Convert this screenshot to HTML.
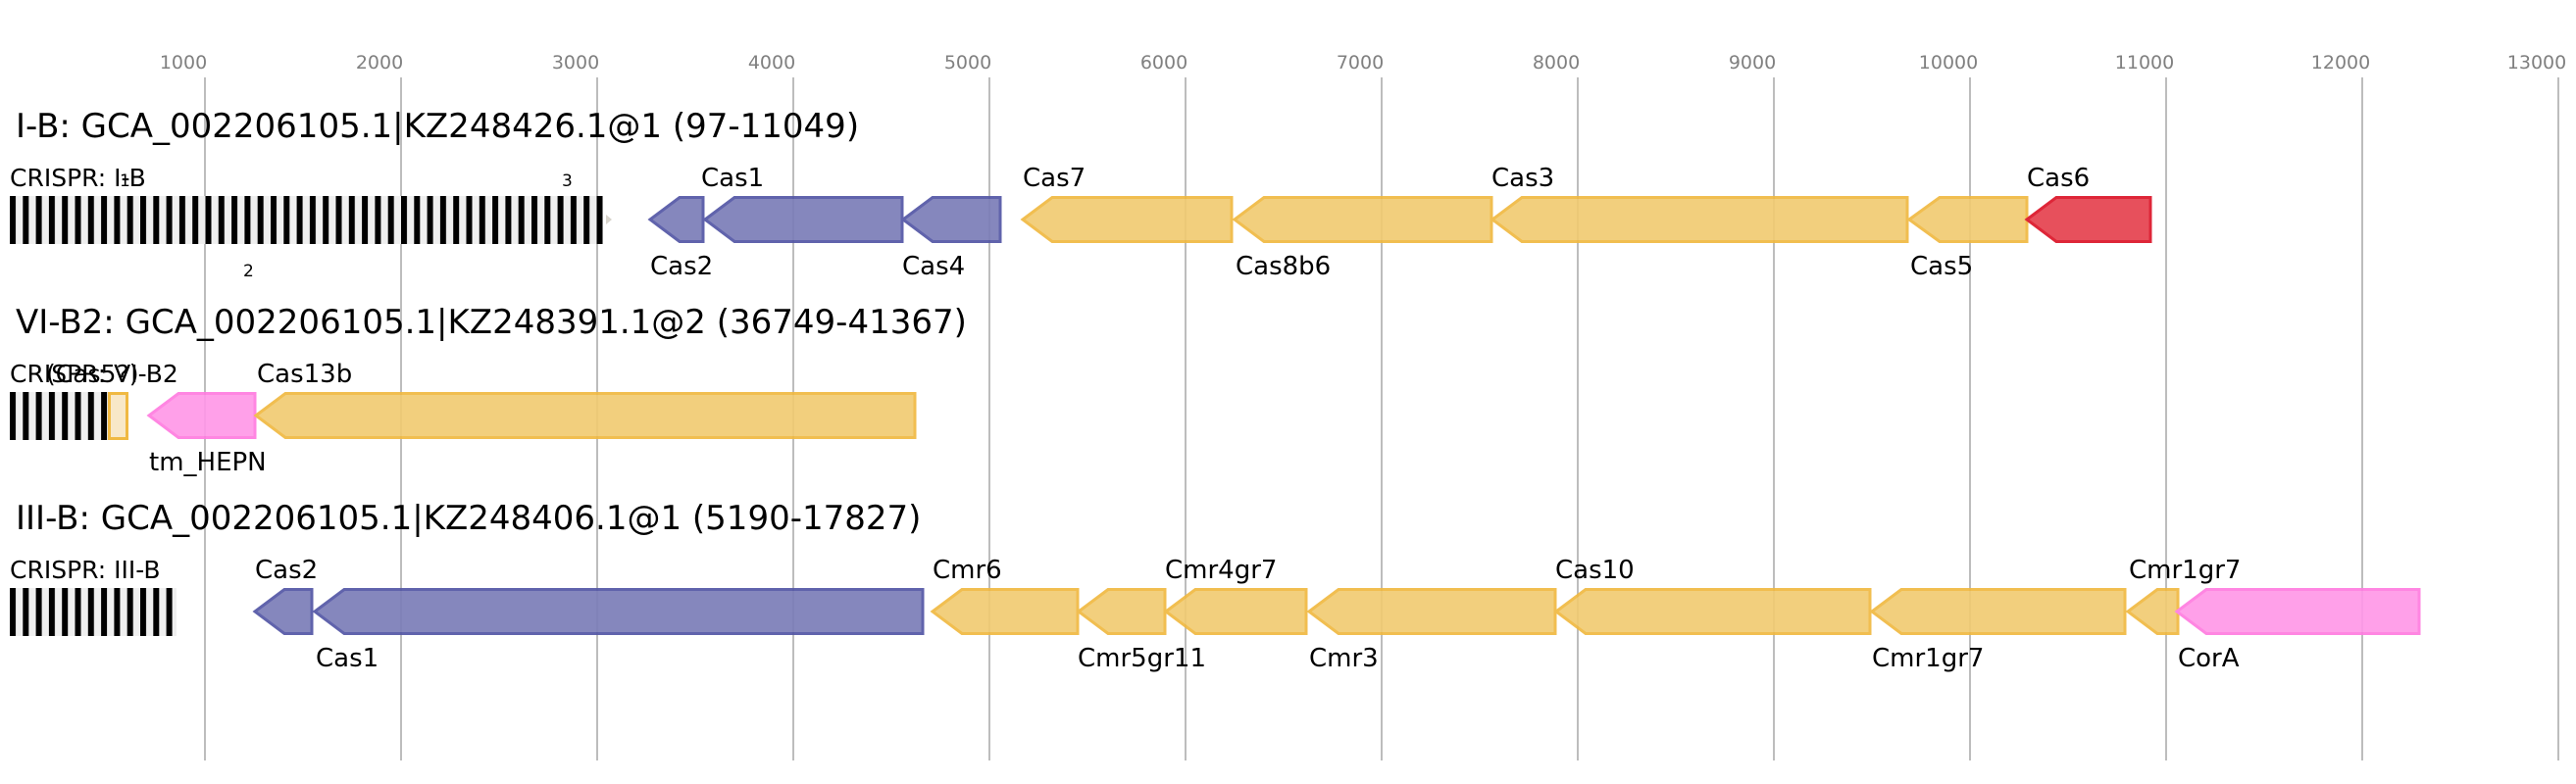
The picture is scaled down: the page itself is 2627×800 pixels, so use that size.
<!DOCTYPE html>
<html><head><meta charset="utf-8"><style>
html,body{margin:0;padding:0;background:#fff;}
svg{display:block;}
text{font-family:"DejaVu Sans","Liberation Sans",sans-serif;}
</style></head><body>
<svg width="2627" height="800" viewBox="0 0 2627 800" xmlns="http://www.w3.org/2000/svg">
<rect width="2627" height="800" fill="#fff"/>
<defs>
<pattern id="cr" x="10" y="0" width="13.3" height="10" patternUnits="userSpaceOnUse">
<rect x="0" y="0" width="13.3" height="10" fill="#efefef"/>
<rect x="0" y="0" width="6" height="10" fill="#000"/>
</pattern>
</defs>
<g stroke="#bdbdbd" stroke-width="2">
<line x1="209" y1="79" x2="209" y2="776"/><line x1="409" y1="79" x2="409" y2="776"/>
<line x1="609" y1="79" x2="609" y2="776"/><line x1="809" y1="79" x2="809" y2="776"/>
<line x1="1009" y1="79" x2="1009" y2="776"/><line x1="1209" y1="79" x2="1209" y2="776"/>
<line x1="1409" y1="79" x2="1409" y2="776"/><line x1="1609" y1="79" x2="1609" y2="776"/>
<line x1="1809" y1="79" x2="1809" y2="776"/><line x1="2009" y1="79" x2="2009" y2="776"/>
<line x1="2209" y1="79" x2="2209" y2="776"/><line x1="2409" y1="79" x2="2409" y2="776"/>
<line x1="2609" y1="79" x2="2609" y2="776"/>
</g>
<g fill="#808080" font-size="19" text-anchor="middle">
<text x="187" y="70">1000</text><text x="387" y="70">2000</text><text x="587" y="70">3000</text>
<text x="787" y="70">4000</text><text x="987" y="70">5000</text><text x="1187" y="70">6000</text>
<text x="1387" y="70">7000</text><text x="1587" y="70">8000</text><text x="1787" y="70">9000</text>
<text x="1987" y="70">10000</text><text x="2187" y="70">11000</text><text x="2387" y="70">12000</text>
<text x="2587" y="70">13000</text>
</g>
<g fill="#000" font-size="34">
<text x="16" y="140">I-B: GCA_002206105.1|KZ248426.1@1 (97-11049)</text>
<text x="16" y="340">VI-B2: GCA_002206105.1|KZ248391.1@2 (36749-41367)</text>
<text x="16" y="540">III-B: GCA_002206105.1|KZ248406.1@1 (5190-17827)</text>
</g>
<rect x="10" y="200" width="605" height="49" fill="url(#cr)"/>
<polygon points="618,219 624,224 618,229" fill="#d8d4cc"/>
<rect x="10" y="400" width="100" height="49" fill="url(#cr)"/>
<rect x="111.5" y="401.5" width="18" height="46" fill="#f8e8c8" stroke="#f0b942" stroke-width="3"/>
<rect x="10" y="600" width="170" height="49" fill="url(#cr)"/>
<g fill="#000" font-size="25">
<text x="10" y="190">CRISPR: I-B</text>
<text x="10" y="390">CRISPR: VI-B2</text>
<text x="47" y="390">(Cas5?)</text>
<text x="10" y="590">CRISPR: III-B</text>
</g>
<g fill="#000" font-size="17">
<text x="122" y="190">1</text><text x="573" y="190">3</text><text x="248" y="282">2</text>
</g>
<g stroke-width="3" stroke-linejoin="miter" opacity="0.92">
<g fill="#7b7db8" stroke="#5356a5">
<polygon points="663,224 693,201.5 717,201.5 717,246.5 693,246.5"/>
<polygon points="719,224 749,201.5 920,201.5 920,246.5 749,246.5"/>
<polygon points="921,224 951,201.5 1020,201.5 1020,246.5 951,246.5"/>
</g>
<g fill="#f1cb72" stroke="#f0b942">
<polygon points="1043,224 1073,201.5 1256,201.5 1256,246.5 1073,246.5"/>
<polygon points="1259,224 1289,201.5 1521,201.5 1521,246.5 1289,246.5"/>
<polygon points="1522,224 1552,201.5 1945,201.5 1945,246.5 1552,246.5"/>
<polygon points="1947,224 1978,201.5 2067,201.5 2067,246.5 1978,246.5"/>
</g>
<polygon points="2067,224 2097,201.5 2193,201.5 2193,246.5 2097,246.5" fill="#e5424f" stroke="#dc1428"/>
<polygon points="152,424 182,401.5 260,401.5 260,446.5 182,446.5" fill="#ff98e8" stroke="#ff7ce0"/>
<polygon points="261,424 291,401.5 933,401.5 933,446.5 291,446.5" fill="#f1cb72" stroke="#f0b942"/>
<g fill="#7b7db8" stroke="#5356a5">
<polygon points="260,624 290,601.5 318,601.5 318,646.5 290,646.5"/>
<polygon points="321,624 351,601.5 941,601.5 941,646.5 351,646.5"/>
</g>
<g fill="#f1cb72" stroke="#f0b942">
<polygon points="951,624 981,601.5 1099,601.5 1099,646.5 981,646.5"/>
<polygon points="1100,624 1130,601.5 1188,601.5 1188,646.5 1130,646.5"/>
<polygon points="1189,624 1219,601.5 1332,601.5 1332,646.5 1219,646.5"/>
<polygon points="1335,624 1365,601.5 1586,601.5 1586,646.5 1365,646.5"/>
<polygon points="1587,624 1617,601.5 1907,601.5 1907,646.5 1617,646.5"/>
<polygon points="1909,624 1939,601.5 2167,601.5 2167,646.5 1939,646.5"/>
<polygon points="2170,624 2200,601.5 2221,601.5 2221,646.5 2200,646.5"/>
</g>
<polygon points="2220,624 2250,601.5 2467,601.5 2467,646.5 2250,646.5" fill="#ff98e8" stroke="#ff7ce0"/>
</g>
<g fill="#000" font-size="26">
<text x="663" y="280">Cas2</text>
<text x="715" y="190">Cas1</text>
<text x="920" y="280">Cas4</text>
<text x="1043" y="190">Cas7</text>
<text x="1260" y="280">Cas8b6</text>
<text x="1521" y="190">Cas3</text>
<text x="1948" y="280">Cas5</text>
<text x="2067" y="190">Cas6</text>
<text x="152" y="480">tm_HEPN</text>
<text x="262" y="390">Cas13b</text>
<text x="260" y="590">Cas2</text>
<text x="322" y="680">Cas1</text>
<text x="951" y="590">Cmr6</text>
<text x="1099" y="680">Cmr5gr11</text>
<text x="1188" y="590">Cmr4gr7</text>
<text x="1335" y="680">Cmr3</text>
<text x="1586" y="590">Cas10</text>
<text x="1909" y="680">Cmr1gr7</text>
<text x="2171" y="590">Cmr1gr7</text>
<text x="2221" y="680">CorA</text>
</g>
</svg>
</body></html>
